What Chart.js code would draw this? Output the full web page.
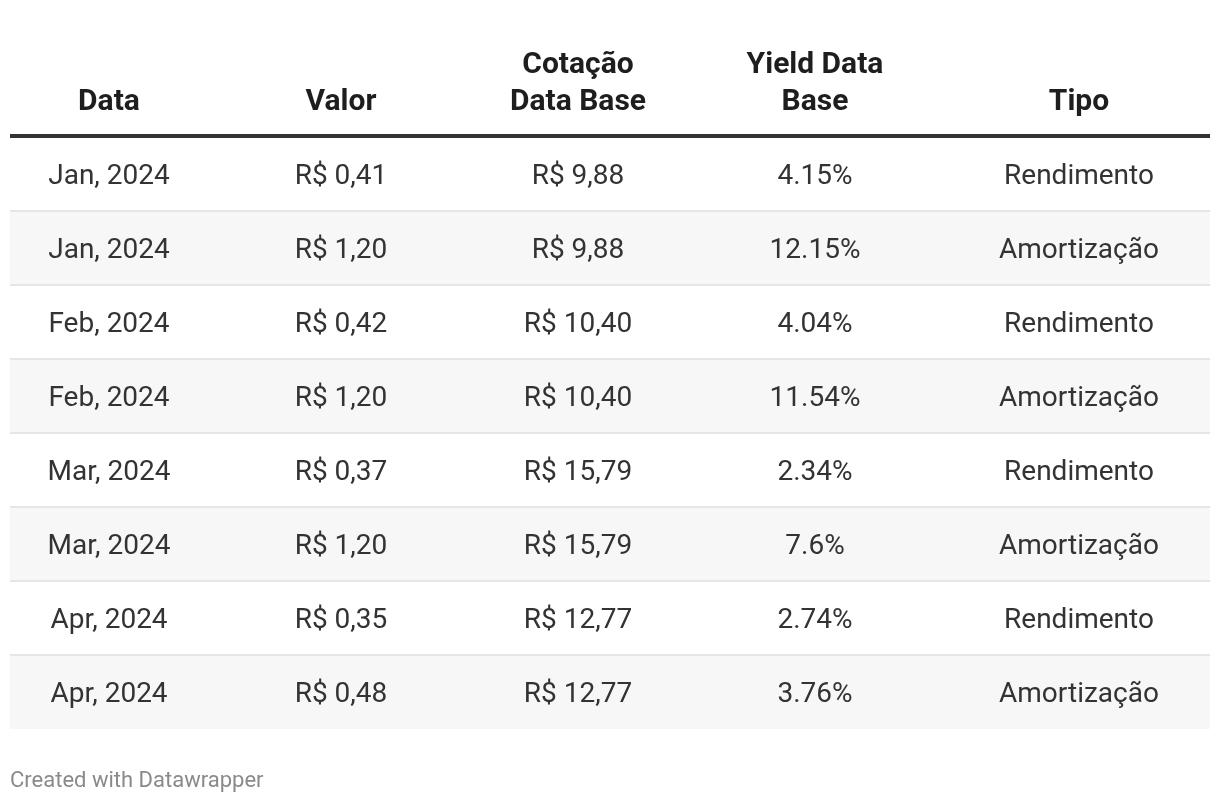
<!DOCTYPE html>
<html>
<head>
<meta charset="utf-8">
<script src="https://cdn.jsdelivr.net/npm/chart.js@4"></script>
<style>
  html, body { margin: 0; padding: 0; background: #fff; }
  #wrap { width: 1220px; height: 804px; }
</style>
</head>
<body>
<div id="wrap"><canvas id="tableChart"></canvas></div>
<script>
// table data, one array per column
var headers = [["Data"], ["Valor"], ["Cotação", "Data Base"], ["Yield Data", "Base"], ["Tipo"]];
var datas = ["Jan, 2024", "Jan, 2024", "Feb, 2024", "Feb, 2024", "Mar, 2024", "Mar, 2024", "Apr, 2024", "Apr, 2024"];
var valores = [0.41, 1.20, 0.42, 1.20, 0.37, 1.20, 0.35, 0.48];
var cotacoes = [9.88, 9.88, 10.40, 10.40, 15.79, 15.79, 12.77, 12.77];
var yields = [4.15, 12.15, 4.04, 11.54, 2.34, 7.6, 2.74, 3.76];
var tipos = ["Rendimento", "Amortização", "Rendimento", "Amortização", "Rendimento", "Amortização", "Rendimento", "Amortização"];

function brl(v) {
    return "R$ " + v.toFixed(2).replace(".", ",");
}

var columns = [
    datas,
    valores.map(brl),
    cotacoes.map(brl),
    yields.map(function (v) { return v + "%"; }),
    tipos
];

// column centres on the 0..1200 x scale
var colX = [99, 331, 568, 805, 1069];

/**
 * Draws header, row lines, cell texts and footer from the scales
 */
var tablePlugin = {
    id: 'tablePlugin',
    afterDatasetsDraw: function (chart) {
        var ctx = chart.ctx;
        var area = chart.chartArea;
        var xs = chart.scales.x;
        var ys = chart.scales.y;
        ctx.save();

        // row separators
        ctx.fillStyle = '#e6e6e6';
        for (var i = 0; i < datas.length - 1; i++) {
            var yy = Math.round((ys.getPixelForValue(i) + ys.getPixelForValue(i + 1)) / 2);
            ctx.fillRect(area.left, yy - 1, area.right - area.left, 2);
        }

        ctx.textAlign = 'center';
        ctx.textBaseline = 'alphabetic';

        // header
        ctx.font = 'bold 30px Roboto';
        ctx.fillStyle = '#1e1e1e';
        headers.forEach(function (h, c) {
            var x = xs.getPixelForValue(colX[c]);
            for (var k = 0; k < h.length; k++) {
                var off = (h.length - 1 - k) * 37;
                ctx.fillText(h[k], x, area.top - 27 - off);
            }
        });
        ctx.fillStyle = '#333333';
        ctx.fillRect(area.left, area.top - 3, area.right - area.left, 4);

        // cells
        ctx.font = '28px Roboto';
        ctx.fillStyle = '#333333';
        columns.forEach(function (col, c) {
            var x = xs.getPixelForValue(colX[c]);
            col.forEach(function (txt, r) {
                ctx.fillText(txt, x, ys.getPixelForValue(r) + 10);
            });
        });

        // footer
        ctx.textAlign = 'left';
        ctx.font = '22px Roboto';
        ctx.fillStyle = '#8a8a8a';
        ctx.fillText('Created with Datawrapper', area.left, 787);
        ctx.restore();
    }
};

// stripe every second row
var stripes = datas.map(function (d, i) { return i % 2 === 1 ? [0, 1200] : null; });

var ctxT = document.getElementById("tableChart").getContext('2d');
var tableChart = new Chart(ctxT, {
    type: 'bar',
    data: {
        labels: datas.map(function (d, i) { return i; }),
        datasets: [{
            data: stripes,
            backgroundColor: '#f7f7f7',
            borderWidth: 0,
            barPercentage: 1,
            categoryPercentage: 1
        }]
    },
    options: {
        indexAxis: 'y',
        responsive: true,
        maintainAspectRatio: false,
        animation: false,
        layout: { padding: { left: 10, right: 10, top: 137, bottom: 75 } },
        plugins: {
            legend: { display: false },
            tooltip: { enabled: false }
        },
        scales: {
            x: { type: 'linear', min: 0, max: 1200, display: false },
            y: { display: false }
        }
    },
    plugins: [tablePlugin]
});
</script>
</body>
</html>
